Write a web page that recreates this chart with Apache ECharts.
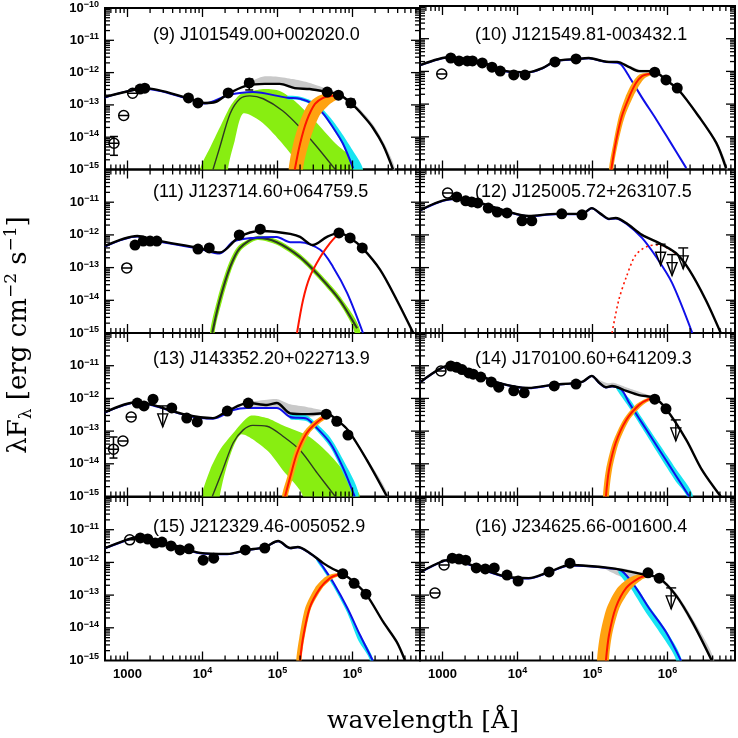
<!DOCTYPE html>
<html><head><meta charset="utf-8">
<script src="https://cdn.jsdelivr.net/npm/echarts@6/dist/echarts.min.js"></script>
<style>html,body{margin:0;padding:0;background:#fff}#c{width:738px;height:738px}</style>
</head><body><div id="c"></div>
<script>
// ---------------- data (wavelength [A], lambda F_lambda [erg cm^-2 s^-1]) ----------------
const titles = ['(9) J101549.00+002020.0','(10) J121549.81-003432.1','(11) J123714.60+064759.5','(12) J125005.72+263107.5',
  '(13) J143352.20+022713.9','(14) J170100.60+641209.3','(15) J212329.46-005052.9','(16) J234625.66-001600.4'];

// panel 9
const p9Total=[[501,1.78e-13],[1380,3.1e-13],[1700,3.3e-13],[6760,1.55e-13],[1.07e4,1.15e-13],[1.48e4,1.23e-13],[2.19e4,2.19e-13],[3.72e4,3.8e-13],[6.76e4,4.47e-13],[1.07e5,4.47e-13],[1.7e5,3.3e-13],[2.69e5,3.1e-13],[4.57e5,2.5e-13],[6.76e5,2.04e-13],[9.8e5,1.07e-13],[1.38e6,4.7e-14],[1.86e6,2.0e-14],[2.57e6,5.6e-15],[3.47e6,1.0e-15]];
const p9GrayHi=[[3.55e4,4.2e-13],[6.3e4,7.5e-13],[1.0e5,7.5e-13],[1.6e5,6.3e-13],[2.5e5,5.0e-13],[4.0e5,3.5e-13],[6.3e5,2.4e-13],[1.0e6,1.2e-13],[1.41e6,5.5e-14],[1.9e6,2.4e-14],[2.6e6,7e-15],[3.7e6,1e-15]];
const p9GrayLo=[[3.55e4,3.6e-13],[6.3e4,4.2e-13],[1.07e5,4.2e-13],[1.7e5,3.0e-13],[2.69e5,2.9e-13],[4.57e5,2.35e-13],[6.76e5,1.9e-13],[1.0e6,1.0e-13],[1.41e6,4.2e-14],[1.9e6,1.7e-14],[2.6e6,4.5e-15],[3.4e6,1e-15]];
const p9Blue=[[501,1.7e-13],[1700,3.15e-13],[6760,1.5e-13],[1.07e4,1.1e-13],[2.19e4,2.0e-13],[3.16e4,2.34e-13],[4.68e4,2.5e-13],[1.35e5,1.66e-13],[2.0e5,1.55e-13],[2.95e5,1.07e-13],[4.07e5,5.4e-14],[5.5e5,2.0e-14],[7.41e5,6.5e-15],[1.02e6,1.1e-15]];
const p9CyanHi=[[1.35e5,1.9e-13],[2.0e5,1.8e-13],[2.95e5,1.3e-13],[4.07e5,7.1e-14],[5.5e5,3.2e-14],[7.41e5,1.2e-14],[1.0e6,4e-15],[1.38e6,1e-15]];
const p9CyanLo=[[1.35e5,1.5e-13],[2.0e5,1.4e-13],[2.95e5,9.5e-14],[4.07e5,4.8e-14],[5.5e5,1.8e-14],[7.41e5,5.8e-15],[9.8e5,1e-15]];
const p9Green=[[1.38e4,1.0e-15],[1.7e4,4.9e-15],[2.34e4,5.4e-14],[3.16e4,1.55e-13],[4.27e4,1.9e-13],[6.46e4,1.55e-13],[1.17e5,6.6e-14],[2.0e5,2.0e-14],[3.39e5,4.9e-15],[5.89e5,1.0e-15]];
const p9GreenHi=[[9330,1.0e-15],[1.26e4,4.7e-15],[1.7e4,2.0e-14],[2.34e4,9e-14],[3.16e4,2.1e-13],[4.27e4,2.6e-13],[6.76e4,3.1e-13],[1.07e5,2.7e-13],[1.7e5,1.32e-13],[3.16e5,3.2e-14],[5.89e5,6.5e-15],[1.38e6,1.0e-15]];
const p9GreenLo=[[2.19e4,1.0e-15],[2.69e4,7.8e-15],[3.47e4,5.4e-14],[5.89e4,3.2e-14],[1.07e5,7.9e-15],[2.0e5,1.0e-15]];
const p9Red=[[1.7e5,1.0e-15],[2.0e5,6.3e-15],[2.45e5,3.2e-14],[3.16e5,1.07e-13],[4.07e5,1.66e-13],[5.37e5,1.9e-13],[6.76e5,1.95e-13]];
const p9OrangeHi=[[1.41e5,1.0e-15],[1.62e5,6.3e-15],[2.0e5,3.2e-14],[2.57e5,1.07e-13],[3.47e5,1.9e-13],[5.01e5,2.34e-13],[6.76e5,2.1e-13]];
const p9OrangeLo=[[2.19e5,1.0e-15],[2.69e5,7.8e-15],[3.63e5,4.7e-14],[5.01e5,1.07e-13],[6.76e5,1.7e-13]];
const p9Pts=[[1470,3.1e-13],[1700,3.3e-13],[6500,1.65e-13],[8700,1.15e-13],[2.2e4,2.35e-13],[4.2e4,4.8e-13],[4.6e5,2.5e-13],[6.5e5,2.0e-13],[9.5e5,1.15e-13]];
const p9Open=[[1170,2.3e-13],[890,4.7e-14],[660,6.5e-15]];
const p9Err=[[660,2.75e-15,1.05e-14],[4.2e4,2.9e-13,6.3e-13],[9.5e5,8.5e-14,1.5e-13]];
const p9UL=[];

// panel 10
const p10Total=[[513,1.58e-12],[1290,2.75e-12],[1820,2.24e-12],[2820,2.09e-12],[4570,1.48e-12],[7080,1.02e-12],[1.41e4,9.5e-13],[2.14e4,1.26e-12],[3.24e4,2.09e-12],[6.03e4,2.4e-12],[8.91e4,2.57e-12],[1.35e5,2.09e-12],[1.66e5,1.95e-12],[2.14e5,1.95e-12],[3.09e5,1.35e-12],[4.17e5,1.02e-12],[5.62e5,1.02e-12],[7.08e5,9.5e-13],[9.55e5,5.5e-13],[1.41e6,2.7e-13],[2.63e6,4.1e-14],[4.47e6,6.5e-15],[6.03e6,1.1e-15]];
const p10GrayHi=[[3.09e5,1.45e-12],[4.17e5,1.15e-12],[5.62e5,1.12e-12],[7.08e5,1.02e-12],[9.55e5,6.0e-13],[1.41e6,3.0e-13],[2.63e6,4.6e-14],[4.47e6,7.4e-15],[6.3e6,1.1e-15]];
const p10GrayLo=[[3.09e5,1.3e-12],[4.17e5,9.5e-13],[5.62e5,9.3e-13],[7.08e5,8.8e-13],[9.55e5,5.1e-13],[1.41e6,2.5e-13],[2.63e6,3.7e-14],[4.47e6,5.8e-15],[5.9e6,1.0e-15]];
const p10Blue=[[513,1.55e-12],[1290,2.7e-12],[1820,2.2e-12],[2820,2.05e-12],[4570,1.45e-12],[7080,1.0e-12],[1.41e4,9.3e-13],[2.14e4,1.23e-12],[3.24e4,2.05e-12],[6.03e4,2.35e-12],[8.91e4,2.52e-12],[1.35e5,2.05e-12],[1.66e5,1.9e-12],[2.14e5,1.85e-12],[2.45e5,1.55e-12],[3.09e5,6.9e-13],[4.57e5,1.58e-13],[7.08e5,3.4e-14],[1.05e6,7.9e-15],[1.78e6,1.1e-15]];
const p10Red=[[1.78e5,1.0e-15],[2.04e5,6.5e-15],[2.45e5,4.1e-14],[3.09e5,1.66e-13],[3.8e5,4.4e-13],[4.57e5,7.2e-13],[5.62e5,8.3e-13],[7.08e5,8.9e-13]];
const p10OrangeHi=[[1.66e5,1.0e-15],[1.9e5,6.5e-15],[2.24e5,4.1e-14],[2.75e5,1.66e-13],[3.39e5,4.4e-13],[4.17e5,7.9e-13],[5.62e5,9.3e-13],[7.08e5,9.6e-13]];
const p10OrangeLo=[[1.9e5,1.0e-15],[2.19e5,6.5e-15],[2.69e5,4.1e-14],[3.47e5,1.66e-13],[4.27e5,4.0e-13],[5.01e5,6.3e-13],[6.03e5,7.6e-13],[7.08e5,8.2e-13]];
const p10Pts=[[1290,2.57e-12],[1660,2.09e-12],[2140,2.09e-12],[2510,2.09e-12],[3390,1.82e-12],[4570,1.35e-12],[5890,1.02e-12],[8910,7.8e-13],[1.26e4,7.8e-13],[3.16e4,1.95e-12],[6.03e4,2.4e-12],[6.76e5,9.5e-13],[9.55e5,5.5e-13],[1.35e6,3.1e-13]];
const p10Open=[[977,8.3e-13]];

// panel 11
const p11Total=[[501,4.6e-13],[1350,9.3e-13],[2340,6.9e-13],[8710,4.0e-13],[1.7e4,2.9e-13],[3.09e4,8.7e-13],[5.89e4,1.32e-12],[9.77e4,1.23e-12],[1.48e5,1.07e-12],[2.0e5,8.7e-13],[2.95e5,4.9e-13],[4.57e5,8.7e-13],[6.6e5,1.15e-12],[9.3e5,8.1e-13],[1.35e6,4.0e-13],[2.34e6,8.5e-14],[3.89e6,1.02e-14],[6.46e6,1.0e-15]];
const p11Blue=[[501,4.4e-13],[1350,8.9e-13],[2340,6.6e-13],[8710,3.8e-13],[1.7e4,2.7e-13],[2.57e4,6.2e-13],[4.68e4,8.1e-13],[9.77e4,8.7e-13],[1.48e5,6.0e-13],[2.0e5,6.0e-13],[3.72e5,3.5e-13],[5.5e5,1.05e-13],[8.5e5,1.66e-14],[1.38e6,1.0e-15]];
const p11Green=[[1.35e4,1.0e-15],[1.7e4,1.02e-14],[2.34e4,1.05e-13],[3.16e4,4.0e-13],[5.37e4,8.1e-13],[9.77e4,6.0e-13],[2.0e5,2.1e-13],[3.72e5,5.1e-14],[6.76e5,1.02e-14],[1.15e6,1.4e-15]];
const p11GreenHi=[[1.26e4,1.0e-15],[1.6e4,1.2e-14],[2.2e4,1.2e-13],[3.0e4,4.6e-13],[5.37e4,9.3e-13],[9.77e4,7.2e-13],[2.0e5,2.6e-13],[3.72e5,6.5e-14],[6.76e5,1.35e-14],[1.26e6,1.2e-15]];
const p11GreenLo=[[1.45e4,1.0e-15],[1.8e4,8.5e-15],[2.45e4,9e-14],[3.3e4,3.5e-13],[5.37e4,7.0e-13],[9.77e4,5.0e-13],[2.0e5,1.7e-13],[3.72e5,4.0e-14],[6.76e5,7.8e-15],[1.07e6,1.0e-15]];
const p11Red=[[1.82e5,1.0e-15],[2.19e5,1.02e-14],[2.69e5,5.1e-14],[3.72e5,2.1e-13],[5.01e5,5.6e-13],[6.17e5,9.6e-13],[6.6e5,1.12e-12]];
const p11Pts=[[1260,4.9e-13],[1620,6.5e-13],[2000,6.5e-13],[2460,6.5e-13],[8710,3.7e-13],[1.23e4,4.0e-13],[3.09e4,1.0e-12],[5.89e4,1.5e-12],[6.6e5,1.15e-12],[9.3e5,8.1e-13],[1.35e6,4.0e-13]];
const p11Open=[[977,9.8e-14]];

// panel 12
const p12Total=[[513,5.8e-12],[1350,1.26e-11],[2820,1.02e-11],[7760,5.0e-12],[1.41e4,3.8e-12],[3.24e4,4.4e-12],[7.24e4,4.4e-12],[9.77e4,6.6e-12],[1.29e5,4.4e-12],[1.66e5,3.1e-12],[2.04e5,3.3e-12],[2.82e5,2.3e-12],[4.57e5,1.0e-12],[7.76e5,5.6e-13],[1.29e6,2.8e-13],[1.95e6,8.5e-14],[3.24e6,1.02e-14],[5.13e6,1.0e-15]];
const p12Blue=[[513,5.7e-12],[1350,1.24e-11],[2820,1.0e-11],[7760,4.9e-12],[1.41e4,3.7e-12],[3.24e4,4.3e-12],[7.24e4,4.3e-12],[9.77e4,6.5e-12],[1.29e5,4.3e-12],[1.66e5,3.0e-12],[2.04e5,3.2e-12],[2.82e5,2.2e-12],[4.57e5,8.1e-13],[7.08e5,2.1e-13],[1.15e6,3.4e-14],[2.14e6,1.0e-15]];
const p12RedDot=[[1.82e5,1.0e-15],[2.24e5,1.02e-14],[2.82e5,5.1e-14],[3.8e5,2.5e-13],[5.62e5,4.6e-13],[7.76e5,4.9e-13],[1.05e6,3.7e-13],[1.3e6,2.6e-13]];
const p12Pts=[[1550,1.45e-11],[2040,1.1e-11],[2450,1.02e-11],[2950,9.5e-12],[4070,6.6e-12],[5370,5.0e-12],[7240,4.7e-12],[1.15e4,2.7e-12],[1.55e4,2.7e-12],[3.89e4,4.4e-12],[7.24e4,4.1e-12]];
const p12Open=[[1170,1.9e-11]];
const p12UL=[[8.1e5,5.2e-13],[1.15e6,2.5e-13],[1.62e6,4.0e-13]];

// panel 13
const p13Total=[[501,3.8e-13],[1350,7.8e-13],[2190,6.3e-13],[6170,3.1e-13],[1.38e4,2.5e-13],[2.14e4,4.1e-13],[4.07e4,7.2e-13],[7.24e4,6.3e-13],[9.77e4,7.2e-13],[1.48e5,3.5e-13],[2.45e5,3.3e-13],[4.47e5,3.5e-13],[6.17e5,2.2e-13],[8.7e5,1.07e-13],[1.55e6,1.32e-14],[2.88e6,1.0e-15]];
const p13GrayHi=[[3.5e4,7.4e-13],[7.24e4,9.1e-13],[1.0e5,9.5e-13],[1.48e5,6.6e-13],[2.45e5,5.5e-13],[4.47e5,4.0e-13],[6.17e5,2.35e-13],[8.7e5,1.15e-13],[1.55e6,1.5e-14],[3.0e6,1.0e-15]];
const p13GrayLo=[[3.5e4,6.3e-13],[7.24e4,5.0e-13],[1.0e5,5.0e-13],[1.48e5,3.0e-13],[2.45e5,2.7e-13],[4.47e5,3.1e-13],[6.17e5,2.0e-13],[8.7e5,9.8e-14],[1.55e6,1.15e-14],[2.75e6,1.0e-15]];
const p13Blue=[[501,3.7e-13],[1350,7.5e-13],[2190,6.0e-13],[6170,3.0e-13],[1.38e4,2.4e-13],[2.57e4,4.4e-13],[3.89e4,5.1e-13],[9.77e4,5.1e-13],[1.48e5,2.7e-13],[2.45e5,2.4e-13],[3.24e5,1.35e-13],[5.01e5,4.4e-14],[7.41e5,7.9e-15],[1.07e6,1.0e-15]];
const p13CyanHi=[[1.48e5,3.3e-13],[2.45e5,3.0e-13],[3.24e5,1.8e-13],[5.01e5,6.5e-14],[7.41e5,1.4e-14],[1.2e6,1.2e-15]];
const p13CyanLo=[[1.48e5,2.3e-13],[2.45e5,2.0e-13],[3.24e5,1.1e-13],[5.01e5,3.3e-14],[7.41e5,5.5e-15],[1.0e6,1.0e-15]];
const p13Green=[[1.35e4,1.0e-15],[1.86e4,6.5e-15],[2.57e4,4.4e-14],[3.47e4,1.07e-13],[4.68e4,1.5e-13],[7.24e4,1.41e-13],[1.17e5,7.1e-14],[2.0e5,2.6e-14],[3.39e5,5.2e-15],[5.89e5,1.0e-15]];
const p13GreenHi=[[9770,1.0e-15],[1.26e4,6.5e-15],[1.7e4,2.6e-14],[2.57e4,8.7e-14],[4.27e4,2.9e-13],[7.24e4,2.5e-13],[1.17e5,1.5e-13],[2.69e5,6.6e-14],[5.62e5,1.41e-14],[1.0e6,2.5e-15],[1.26e6,1.0e-15]];
const p13GreenLo=[[1.7e4,1.0e-15],[3.16e4,7.6e-14],[7.24e4,2.6e-14],[1.17e5,6.5e-15],[2.19e5,1.0e-15]];
const p13Red=[[1.26e5,1.0e-15],[1.48e5,4.0e-15],[1.82e5,2.1e-14],[2.45e5,8.7e-14],[3.39e5,1.9e-13],[4.6e5,3.1e-13]];
const p13OrangeHi=[[1.15e5,1.0e-15],[1.35e5,4.0e-15],[1.66e5,2.1e-14],[2.19e5,8.7e-14],[3.02e5,1.95e-13],[4.27e5,3.3e-13]];
const p13OrangeLo=[[1.38e5,1.0e-15],[1.62e5,4.0e-15],[2.0e5,2.1e-14],[2.69e5,8.7e-14],[3.72e5,1.8e-13],[4.9e5,2.9e-13]];
const p13Pts=[[1350,7.2e-13],[1660,5.9e-13],[2190,9.5e-13],[3890,5.1e-13],[6170,2.5e-13],[8510,1.9e-13],[2.14e4,4.1e-13],[4.07e4,7.2e-13],[4.47e5,3.3e-13],[6.17e5,2.0e-13],[8.7e5,7.6e-14]];
const p13Open=[[1120,2.7e-13],[870,5.0e-14],[650,2.8e-14]];
const p13Err=[[650,1.5e-14,6.6e-14]];
const p13UL=[[2950,5.9e-13]];

// panel 14
const p14Total=[[513,3.2e-12],[1290,1.05e-11],[2450,6.5e-12],[5620,3.0e-12],[1.41e4,2.1e-12],[2.88e4,2.6e-12],[7.24e4,3.2e-12],[9.77e4,4.9e-12],[1.23e5,3.0e-12],[1.51e5,2.2e-12],[1.82e5,2.4e-12],[2.82e5,1.7e-12],[4.17e5,1.26e-12],[6.76e5,1.02e-12],[9.55e5,4.8e-13],[1.78e6,5.4e-14],[2.88e6,6.5e-15],[5.13e6,1.0e-15]];
const p14GrayHi=[[1.1e5,4.4e-12],[1.26e5,3.6e-12],[1.6e5,2.9e-12],[1.9e5,3.0e-12],[2.8e5,2.2e-12],[4.2e5,1.6e-12],[6.3e5,1.15e-12],[7.5e5,9.5e-13]];
const p14GrayLo=[[1.1e5,4.0e-12],[1.26e5,2.9e-12],[1.6e5,2.15e-12],[1.9e5,2.35e-12],[2.8e5,1.65e-12],[4.2e5,1.22e-12],[6.3e5,9.8e-13],[7.5e5,8.5e-13]];
const p14Blue=[[513,3.15e-12],[1290,1.03e-11],[2450,6.4e-12],[5620,2.95e-12],[1.41e4,2.05e-12],[2.88e4,2.55e-12],[7.24e4,3.15e-12],[9.77e4,4.8e-12],[1.23e5,2.95e-12],[1.51e5,2.15e-12],[1.82e5,2.3e-12],[2.45e5,1.8e-12],[3.09e5,7.2e-13],[4.57e5,1.78e-13],[7.76e5,2.7e-14],[1.29e6,4.4e-15],[1.95e6,1.0e-15]];
const p14CyanHi=[[2.0e5,2.4e-12],[3.09e5,1.0e-12],[4.57e5,2.5e-13],[7.76e5,4.0e-14],[1.29e6,7.0e-15],[2.2e6,1.0e-15]];
const p14CyanLo=[[2.2e5,1.6e-12],[3.09e5,5.2e-13],[4.57e5,1.26e-13],[7.76e5,1.8e-14],[1.29e6,2.9e-15],[1.8e6,1.0e-15]];
const p14Red=[[1.51e5,1.0e-15],[1.66e5,6.5e-15],[2.04e5,4.4e-14],[2.82e5,2.2e-13],[4.17e5,6.3e-13],[5.62e5,9.5e-13],[6.76e5,1.0e-12]];
const p14OrangeHi=[[1.38e5,1.0e-15],[1.51e5,6.5e-15],[1.86e5,4.4e-14],[2.57e5,2.2e-13],[3.8e5,6.5e-13],[5.25e5,1.0e-12],[6.76e5,1.07e-12]];
const p14OrangeLo=[[1.66e5,1.0e-15],[1.82e5,6.5e-15],[2.24e5,4.4e-14],[3.09e5,2.2e-13],[4.57e5,6.0e-13],[6.03e5,8.9e-13],[6.76e5,9.5e-13]];
const p14Pts=[[1290,9.8e-12],[1550,8.9e-12],[1820,7.6e-12],[2240,6.0e-12],[2570,5.5e-12],[3240,4.5e-12],[4470,3.2e-12],[5620,2.2e-12],[8910,1.7e-12],[1.23e4,1.48e-12],[3.09e4,2.4e-12],[6.03e4,2.75e-12],[6.76e5,9.5e-13],[9.55e5,4.8e-13]];
const p14Open=[[955,6.9e-12]];
const p14UL=[[1.29e6,2.2e-13]];

// panel 15
const p15Total=[[501,2.75e-12],[1170,5.6e-12],[1480,6.0e-12],[4070,3.4e-12],[9330,1.95e-12],[2.14e4,1.82e-12],[3.89e4,2.4e-12],[6.76e4,2.95e-12],[1.02e5,4.5e-12],[1.48e5,2.75e-12],[1.86e5,2.95e-12],[2.69e5,1.95e-12],[4.07e5,9.5e-13],[5.5e5,6.3e-13],[7.41e5,4.5e-13],[1.05e6,2.5e-13],[1.55e6,1.0e-13],[2.57e6,1.51e-14],[3.89e6,3.7e-15],[5.01e6,1.0e-15]];
const p15Blue=[[501,2.7e-12],[1170,5.5e-12],[1480,5.9e-12],[4070,3.3e-12],[9330,1.9e-12],[2.14e4,1.78e-12],[3.89e4,2.35e-12],[6.76e4,2.9e-12],[1.02e5,4.4e-12],[1.48e5,2.7e-12],[1.86e5,2.9e-12],[2.69e5,1.9e-12],[3.3e5,1.35e-12],[4.07e5,7.2e-13],[5.5e5,2.5e-13],[8.5e5,4.1e-14],[1.26e6,6.0e-15],[1.86e6,1.0e-15]];
const p15CyanHi=[[3.3e5,1.4e-12],[4.07e5,7.6e-13],[5.5e5,2.7e-13],[8.5e5,4.4e-14],[1.26e6,6.5e-15],[1.9e6,1.0e-15]];
const p15CyanLo=[[3.3e5,1.15e-12],[4.07e5,5.8e-13],[5.5e5,1.9e-13],[8.5e5,2.9e-14],[1.2e6,4.0e-15],[1.7e6,1.0e-15]];
const p15Red=[[2.0e5,1.0e-15],[2.19e5,4.9e-15],[2.69e5,4.1e-14],[3.72e5,1.66e-13],[5.01e5,3.3e-13],[6.17e5,4.1e-13],[7.41e5,4.4e-13]];
const p15OrangeHi=[[1.78e5,1.0e-15],[1.95e5,4.9e-15],[2.34e5,4.1e-14],[3.16e5,1.66e-13],[4.27e5,3.5e-13],[5.5e5,4.5e-13],[7.41e5,4.7e-13]];
const p15OrangeLo=[[2.09e5,1.0e-15],[2.29e5,4.9e-15],[2.82e5,4.1e-14],[3.98e5,1.66e-13],[5.37e5,3.1e-13],[6.76e5,3.9e-13],[7.41e5,4.2e-13]];
const p15Pts=[[1480,5.6e-12],[1860,5.2e-12],[2340,3.9e-12],[2880,4.2e-12],[3800,3.2e-12],[5010,2.4e-12],[6610,2.6e-12],[1.02e4,1.17e-12],[1.41e4,1.35e-12],[3.72e4,2.4e-12],[6.76e4,2.75e-12],[7.41e5,4.5e-13],[1.05e6,2.3e-13],[1.51e6,1.07e-13]];
const p15Open=[[1070,4.9e-12]];
const p15Err=[[1.51e6,8.3e-14,1.35e-13]];

// panel 16
const p16Total=[[513,5.1e-13],[1350,1.26e-12],[2820,7.2e-13],[7760,3.5e-13],[1.41e4,3.3e-13],[2.63e4,5.1e-13],[5.01e4,8.3e-13],[8.91e4,7.8e-13],[1.66e5,6.8e-13],[2.45e5,5.9e-13],[4.57e5,4.4e-13],[7.76e5,3.3e-13],[1.29e6,1.0e-13],[2.14e6,1.51e-14],[3.89e6,1.0e-15]];
const p16GrayHi=[[1.5e5,7.0e-13],[2.45e5,6.6e-13],[3.47e5,5.6e-13],[4.57e5,4.8e-13],[6.0e5,4.3e-13],[7.76e5,3.6e-13],[1.29e6,1.2e-13],[2.14e6,2.0e-14],[4.2e6,1.0e-15]];
const p16GrayLo=[[1.5e5,6.2e-13],[2.2e5,4.0e-13],[2.8e5,3.3e-13],[3.47e5,3.2e-13],[4.57e5,3.3e-13],[6.0e5,3.5e-13],[7.76e5,2.9e-13],[1.29e6,8.5e-14],[2.14e6,1.2e-14],[3.7e6,1.0e-15]];
const p16Blue=[[513,5.0e-13],[1350,1.24e-12],[2820,7.0e-13],[7760,3.4e-13],[1.41e4,3.2e-13],[2.63e4,5.0e-13],[5.01e4,8.1e-13],[8.91e4,7.6e-13],[1.66e5,6.6e-13],[2.45e5,5.5e-13],[3.8e5,1.66e-13],[5.62e5,4.1e-14],[9.55e5,7.4e-15],[1.51e6,1.0e-15]];
const p16CyanHi=[[2.45e5,6.0e-13],[3.8e5,1.9e-13],[5.62e5,4.8e-14],[9.55e5,8.5e-15],[1.55e6,1.0e-15]];
const p16CyanLo=[[2.2e5,5.0e-13],[3.3e5,1.5e-13],[4.9e5,3.5e-14],[8.3e5,6.0e-15],[1.3e6,1.0e-15]];
const p16Red=[[1.51e5,1.0e-15],[1.66e5,6.0e-15],[2.04e5,4.1e-14],[2.82e5,1.66e-13],[4.17e5,3.3e-13],[5.62e5,4.2e-13]];
const p16OrangeHi=[[1.15e5,1.0e-15],[1.26e5,6.0e-15],[1.55e5,4.1e-14],[2.14e5,1.66e-13],[3.24e5,3.6e-13],[4.9e5,4.6e-13]];
const p16OrangeLo=[[1.66e5,1.0e-15],[1.82e5,6.0e-15],[2.29e5,4.1e-14],[3.24e5,1.5e-13],[4.57e5,3.0e-13],[6.03e5,3.9e-13]];
const p16Pts=[[1350,1.35e-12],[1660,1.26e-12],[2040,1.17e-12],[2820,6.8e-13],[3720,6.3e-13],[4900,6.8e-13],[7240,4.1e-13],[1.02e4,2.7e-13],[2.63e4,5.1e-13],[5.01e4,9.5e-13],[5.5e5,4.8e-13],[7.76e5,3.3e-13]];
const p16Open=[[1050,8.3e-13],[794,1.15e-13]];
const p16Err=[[5.5e5,4.0e-13,5.8e-13]];
const p16UL=[[1.12e6,1.66e-13]];

// axis ranges
const X_MIN = 501.187, X_MAX = 7943282, Y_MIN = 1e-15, Y_MAX = 1e-10;

// ---------------- build ----------------
const panels = [
 {total:p9Total,grayHi:p9GrayHi,grayLo:p9GrayLo,blue:p9Blue,cyanHi:p9CyanHi,cyanLo:p9CyanLo,green:p9Green,greenHi:p9GreenHi,greenLo:p9GreenLo,red:p9Red,orHi:p9OrangeHi,orLo:p9OrangeLo,pts:p9Pts,open:p9Open,err:p9Err,ul:p9UL},
 {total:p10Total,grayHi:p10GrayHi,grayLo:p10GrayLo,blue:p10Blue,red:p10Red,orHi:p10OrangeHi,orLo:p10OrangeLo,pts:p10Pts,open:p10Open},
 {total:p11Total,blue:p11Blue,green:p11Green,greenHi:p11GreenHi,greenLo:p11GreenLo,greenW:2.2,red:p11Red,pts:p11Pts,open:p11Open},
 {total:p12Total,blue:p12Blue,redDot:p12RedDot,pts:p12Pts,open:p12Open,ul:p12UL},
 {total:p13Total,grayHi:p13GrayHi,grayLo:p13GrayLo,blue:p13Blue,cyanHi:p13CyanHi,cyanLo:p13CyanLo,green:p13Green,greenHi:p13GreenHi,greenLo:p13GreenLo,red:p13Red,orHi:p13OrangeHi,orLo:p13OrangeLo,pts:p13Pts,open:p13Open,err:p13Err,ul:p13UL},
 {total:p14Total,grayHi:p14GrayHi,grayLo:p14GrayLo,blue:p14Blue,cyanHi:p14CyanHi,cyanLo:p14CyanLo,red:p14Red,orHi:p14OrangeHi,orLo:p14OrangeLo,pts:p14Pts,open:p14Open,ul:p14UL},
 {total:p15Total,blue:p15Blue,cyanHi:p15CyanHi,cyanLo:p15CyanLo,red:p15Red,orHi:p15OrangeHi,orLo:p15OrangeLo,pts:p15Pts,open:p15Open,err:p15Err},
 {total:p16Total,grayHi:p16GrayHi,grayLo:p16GrayLo,blue:p16Blue,cyanHi:p16CyanHi,cyanLo:p16CyanLo,red:p16Red,orHi:p16OrangeHi,orLo:p16OrangeLo,pts:p16Pts,open:p16Open,err:p16Err,ul:p16UL}
];

const ROW_TOP = [6, 169.5, 333, 497], ROW_H = 163.5;
const COL_LEFT = [105, 420], COL_W = 315;
const TITLE_X = [153, 475], TITLE_Y = [35, 192, 359, 527];
const TICK_FONT = 'Liberation Sans, Arial, sans-serif';

function powLabel(v){
  const e = Math.round(Math.log10(v));
  if (e === 3) return '{a|1000}';
  return '{a|10}{b|' + (e < 0 ? '\u2212' + (-e) : e) + '}';
}
const richLab = {
  a:{fontFamily:TICK_FONT,fontWeight:'bold',fontSize:13,color:'#000',lineHeight:16},
  b:{fontFamily:TICK_FONT,fontWeight:'bold',fontSize:9,color:'#000',verticalAlign:'top',lineHeight:16}
};

const grids=[], xAxes=[], yAxes=[], series=[], graphics=[];
const LOW = 1.1e-15;

function lineS(gi, data, color, width, z, extra){
  return Object.assign({type:'line',xAxisIndex:gi,yAxisIndex:gi,data,showSymbol:false,symbol:'none',smooth:0.3,
    lineStyle:{color,width},z,silent:true,clip:true,animation:false}, extra||{});
}
function bandS(gi, hi, lo, color, z){
  return {type:'custom',coordinateSystem:'cartesian2d',xAxisIndex:gi,yAxisIndex:gi,z,silent:true,clip:true,animation:false,
    data:[hi[0]],
    renderItem:function(params, api){
      const dn = p => [p[0], p[1] + 60];
      const H = hi.map(d => api.coord(d));
      const lr = lo.slice().reverse();
      const L = lr.map(d => api.coord(d));
      const pts = [];
      if (hi[0][1] <= LOW) pts.push(dn(H[0]));
      pts.push.apply(pts, H);
      if (hi[hi.length-1][1] <= LOW) pts.push(dn(H[H.length-1]));
      if (lr[0][1] <= LOW) pts.push(dn(L[0]));
      pts.push.apply(pts, L);
      if (lr[lr.length-1][1] <= LOW) pts.push(dn(L[L.length-1]));
      return {type:'polygon',shape:{points:pts,smooth:0.25},style:{fill:color,stroke:null}};
    }};
}
function errS(gi, data, z){
  return {type:'custom',coordinateSystem:'cartesian2d',xAxisIndex:gi,yAxisIndex:gi,z,silent:true,animation:false,
    dimensions:['x','lo','hi'],encode:{x:0,y:1},data,
    renderItem:function(params, api){
      const x = api.value(0);
      const a = api.coord([x, api.value(1)]), b = api.coord([x, api.value(2)]);
      const st = {stroke:'#000',lineWidth:1.5};
      return {type:'group',children:[
        {type:'line',shape:{x1:a[0],y1:a[1],x2:b[0],y2:b[1]},style:st},
        {type:'line',shape:{x1:a[0]-4,y1:a[1],x2:a[0]+4,y2:a[1]},style:st},
        {type:'line',shape:{x1:b[0]-4,y1:b[1],x2:b[0]+4,y2:b[1]},style:st}]};
    }};
}
function ulS(gi, data, z){
  return {type:'custom',coordinateSystem:'cartesian2d',xAxisIndex:gi,yAxisIndex:gi,z,silent:true,animation:false,data,
    renderItem:function(params, api){
      const p = api.coord([api.value(0), api.value(1)]);
      const st = {stroke:'#000',lineWidth:1.4,fill:null};
      return {type:'group',children:[
        {type:'line',shape:{x1:p[0]-5,y1:p[1],x2:p[0]+5,y2:p[1]},style:st},
        {type:'line',shape:{x1:p[0],y1:p[1],x2:p[0],y2:p[1]+21},style:st},
        {type:'polygon',shape:{points:[[p[0]-5,p[1]+8],[p[0]+5,p[1]+8],[p[0],p[1]+21]]},style:{stroke:'#000',lineWidth:1.4,fill:'none'}}]};
    }};
}
function tickS(gi){
  return {type:'custom',coordinateSystem:'cartesian2d',xAxisIndex:gi,yAxisIndex:gi,z:30,silent:true,clip:false,animation:false,
    data:[[1000,1e-12]],
    renderItem:function(params, api){
      const bl = api.coord([X_MIN, Y_MIN]), tr = api.coord([X_MAX, Y_MAX]);
      const left = bl[0], bottom = bl[1], right = tr[0], top = tr[1];
      const ch = [], st = {stroke:'#000',lineWidth:1.3};
      for (let e = 2; e <= 6; e++) for (let k = 1; k <= 9; k++){
        const v = k * Math.pow(10, e);
        if (v < X_MIN || v > X_MAX) continue;
        const x = api.coord([v, Y_MIN])[0], L = k === 1 ? 9 : 5;
        ch.push({type:'line',shape:{x1:x,y1:bottom,x2:x,y2:bottom-L},style:st});
        ch.push({type:'line',shape:{x1:x,y1:top,x2:x,y2:top+L},style:st});
      }
      for (let e = -15; e <= -11; e++) for (let k = 1; k <= 9; k++){
        const v = k * Math.pow(10, e);
        if (k === 1 && e === -15) continue;
        const y = api.coord([X_MIN, v])[1], L = k === 1 ? 9 : 5;
        ch.push({type:'line',shape:{x1:left,y1:y,x2:left+L,y2:y},style:st});
        ch.push({type:'line',shape:{x1:right,y1:y,x2:right-L,y2:y},style:st});
      }
      return {type:'group',children:ch};
    }};
}

panels.forEach((p, i) => {
  const col = i % 2, row = Math.floor(i / 2);
  grids.push({left:COL_LEFT[col],top:ROW_TOP[row],width:COL_W,height:ROW_H,show:true,borderColor:'#000',borderWidth:2,backgroundColor:'transparent'});
  xAxes.push({type:'log',logBase:10,gridIndex:i,min:X_MIN,max:X_MAX,
    axisLine:{show:false},axisTick:{show:false},splitLine:{show:false},minorTick:{show:false},
    axisLabel:{show:row === 3,showMinLabel:false,showMaxLabel:false,margin:6,formatter:powLabel,rich:richLab}});
  yAxes.push({type:'log',logBase:10,gridIndex:i,min:Y_MIN,max:Y_MAX,
    axisLine:{show:false},axisTick:{show:false},splitLine:{show:false},minorTick:{show:false},
    axisLabel:{show:col === 0,showMaxLabel:row === 0,showMinLabel:true,margin:6,formatter:powLabel,rich:richLab}});
  if (p.grayHi) series.push(bandS(i, p.grayHi, p.grayLo, '#c9c9c9', 1));
  if (p.greenHi) series.push(bandS(i, p.greenHi, p.greenLo, '#88ee11', 2));
  if (p.green) series.push(lineS(i, p.green, '#2e3b22', p.greenW || 1.4, 3));
  if (p.cyanHi) series.push(bandS(i, p.cyanHi, p.cyanLo, '#18e4f2', 4));
  if (p.blue) series.push(lineS(i, p.blue, '#1010e8', 2, 5));
  if (p.orHi) series.push(bandS(i, p.orHi, p.orLo, '#ffa210', 6));
  if (p.red) series.push(lineS(i, p.red, '#ff1500', 2, 7));
  if (p.redDot) series.push(lineS(i, p.redDot, '#ff1500', 1.6, 7, {lineStyle:{color:'#ff1500',width:1.6,type:[2,3]}}));
  series.push(lineS(i, p.total, '#000', 2.4, 8));
  if (p.err && p.err.length) series.push(errS(i, p.err, 9));
  if (p.ul && p.ul.length) series.push(ulS(i, p.ul, 9));
  series.push({type:'scatter',xAxisIndex:i,yAxisIndex:i,data:p.pts,symbol:'circle',symbolSize:11,itemStyle:{color:'#000',opacity:1},z:10,silent:true,animation:false});
  series.push({type:'scatter',xAxisIndex:i,yAxisIndex:i,data:p.open,symbol:'path://M10,5A5,5,0,1,1,0,5A5,5,0,1,1,10,5ZM0,5L10,5',symbolSize:10,
    itemStyle:{color:'rgba(255,255,255,0)',borderColor:'#000',borderWidth:1.5,opacity:1},z:10,silent:true,animation:false});
  series.push(tickS(i));
  graphics.push({type:'text',x:TITLE_X[col],y:TITLE_Y[row],z:50,
    style:{text:titles[i],fill:'#000',font:'18px "Liberation Sans", Arial, sans-serif',textAlign:'left',textVerticalAlign:'middle'}});
});

graphics.push({type:'text',x:19,y:335,rotation:Math.PI/2,z:50,
  style:{text:'{a|\u03bbF}{s|\u03bb}{a| [erg cm}{p|\u22122}{a| s}{p|\u22121}{a|]}',align:'center',verticalAlign:'middle',
    rich:{a:{fontFamily:'DejaVu Serif',fontSize:26,lineHeight:32,color:'#000'},
          s:{fontFamily:'DejaVu Serif',fontSize:17,lineHeight:32,verticalAlign:'bottom',color:'#000'},
          p:{fontFamily:'DejaVu Serif',fontSize:17,lineHeight:32,verticalAlign:'top',color:'#000'}}}});
graphics.push({type:'text',x:423,y:721,z:50,
  style:{text:'wavelength [\u00c5]',fill:'#000',font:'25px "DejaVu Serif", serif',textAlign:'center',textVerticalAlign:'middle'}});

const chart = echarts.init(document.getElementById('c'), null, {renderer:'canvas'});
chart.setOption({animation:false,backgroundColor:'#fff',grid:grids,xAxis:xAxes,yAxis:yAxes,series,graphic:graphics});
</script></body></html>
